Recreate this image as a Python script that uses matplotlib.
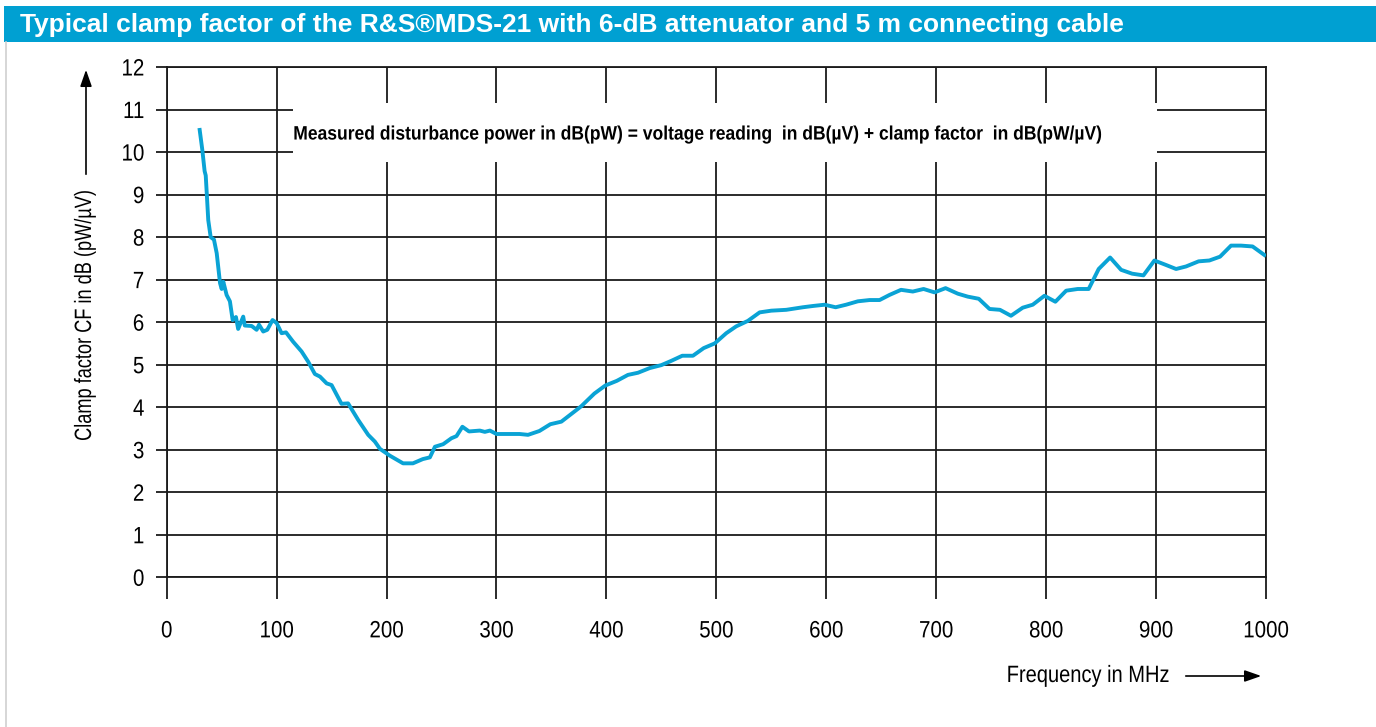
import matplotlib
matplotlib.use("Agg")
import matplotlib.pyplot as plt
import matplotlib.patheffects as pe
from matplotlib.transforms import Affine2D
from matplotlib.patches import Rectangle, FancyArrowPatch

# Data
freq_mhz = [30, 32.4, 34.5, 35.5, 36.5, 37.8, 40, 43, 45.5, 48.5, 50, 51.5, 54.5, 57.5,
            60, 63, 65, 69.6, 71, 77.3, 81.8, 84, 87.8, 91.5, 96.3, 100, 104.5, 108.5,
            115, 122.7, 128.7, 134.8, 139.4, 145.5, 150, 159, 165, 174.2, 183.3, 189.4,
            194, 203, 215, 224, 233, 239.4, 244, 251.5, 259, 263.6, 269, 275, 284.8,
            289.4, 294, 300, 321, 328.7, 339, 349, 359, 377, 389, 399, 409.5, 419.6,
            428.7, 439.4, 450, 459, 469, 478.7, 488.5, 498.5, 509, 518, 528.7, 539.4,
            550, 563.6, 578.7, 587.8, 598.5, 608.5, 618, 628.7, 639.4, 648.5, 657.5,
            668, 678.7, 688.5, 698.5, 708.5, 719.6, 728.7, 738.7, 748.5, 758, 768,
            778.7, 787.8, 798.4, 808.4, 818.2, 828.7, 838.7, 847.8, 858.2, 868.2,
            878.2, 888.5, 898.5, 908.5, 918.2, 927.3, 938.7, 948.5, 958.2, 968.2,
            977.3, 987.8, 998.5]
clamp_factor_db = [10.52, 10.05, 9.55, 9.45, 9.0, 8.4, 8.0, 7.94, 7.62, 6.92, 6.78, 6.95,
                   6.64, 6.49, 6.05, 6.12, 5.84, 6.13, 5.92, 5.91, 5.82, 5.94, 5.78, 5.82,
                   6.05, 5.98, 5.74, 5.76, 5.54, 5.31, 5.07, 4.78, 4.72, 4.56, 4.52, 4.08,
                   4.09, 3.70, 3.35, 3.19, 3.02, 2.86, 2.68, 2.68, 2.78, 2.82, 3.07, 3.13,
                   3.27, 3.32, 3.54, 3.43, 3.45, 3.42, 3.45, 3.37, 3.37, 3.35, 3.44, 3.6,
                   3.66, 4.02, 4.32, 4.51, 4.62, 4.76, 4.81, 4.92, 4.99, 5.09, 5.21, 5.21,
                   5.39, 5.5, 5.74, 5.9, 6.03, 6.23, 6.27, 6.29, 6.35, 6.38, 6.41, 6.35,
                   6.41, 6.49, 6.52, 6.52, 6.64, 6.76, 6.72, 6.78, 6.70, 6.8, 6.67, 6.6,
                   6.55, 6.31, 6.29, 6.15, 6.34, 6.41, 6.62, 6.48, 6.74, 6.78, 6.78, 7.25,
                   7.52, 7.23, 7.14, 7.10, 7.45, 7.35, 7.25, 7.31, 7.43, 7.45, 7.54, 7.8,
                   7.8, 7.78, 7.58]
x_ticks = list(range(0, 1001, 100))
y_ticks = list(range(0, 13))

title = "Typical clamp factor of the R&S\u00aeMDS-21 with 6-dB attenuator and 5 m connecting cable"
note = "Measured disturbance power in dB(pW) = voltage reading  in dB(\u00b5V) + clamp factor  in dB(pW/\u00b5V)"


# no condensed font installed -> squeeze the glyph paths sideways
class Squeeze(pe.AbstractPathEffect):
    def __init__(self, sx=0.82, anchor="left"):
        super().__init__()
        self.sx = sx
        self.anchor = anchor

    def draw_path(self, renderer, gc, tpath, affine, rgbFace=None):
        ext = tpath.get_extents()
        x0 = {"left": ext.x0, "center": (ext.x0 + ext.x1) / 2, "right": ext.x1}[self.anchor]
        t = Affine2D().translate(-x0, 0).scale(self.sx, 1).translate(x0, 0) + affine
        renderer.draw_path(gc, tpath, t, rgbFace)


W, H = 1376, 727
fig = plt.figure(figsize=(W / 100, H / 100), dpi=100)
fig.patch.set_facecolor("white")
font = "Liberation Sans"

# title bar
fig.add_artist(Rectangle((4 / W, 1 - 42 / H), 1 - 4 / W, 36 / H, transform=fig.transFigure,
                         facecolor="#00a0d2", edgecolor="none"))
fig.text(20 / W, 1 - 25 / H, title, color="white", fontsize=19, fontweight="bold",
         family=font, va="center", ha="left")
# thin grey frame line on the left
fig.add_artist(plt.Line2D([6 / W, 6 / W], [0, 1 - 42 / H], transform=fig.transFigure,
                          color="#d0d0d0", lw=1.2))

ax = fig.add_axes([166.7 / W, 1 - 577.3 / H, (1266 - 166.7) / W, (577.3 - 67) / H])
ax.plot(freq_mhz, clamp_factor_db, color="#0aa3d5", lw=2.8, solid_joinstyle="round", zorder=4)

ax.set_xlim(0, 1000)
ax.set_ylim(0, 12)
ax.set_xticks(x_ticks)
ax.set_yticks(y_ticks)
ax.grid(True, color="#1a1a1a", lw=1.3)
for s in ax.spines.values():
    s.set_color("#1a1a1a")
    s.set_linewidth(1.3)
ax.tick_params(axis="x", length=16, width=1.3, color="#1a1a1a", pad=15, labelsize=17)
ax.tick_params(axis="y", length=8, width=1.3, color="#1a1a1a", pad=8, labelsize=17)
for lbl in ax.get_xticklabels():
    lbl.set_family(font)
    lbl.set_path_effects([Squeeze(0.87, "center")])
for lbl in ax.get_yticklabels():
    lbl.set_family(font)
    lbl.set_path_effects([Squeeze(0.87, "right")])

# white note box over the grid
ax.add_patch(Rectangle((115, 9.77), 786, 1.39, facecolor="white", edgecolor="none", zorder=3))
ax.text(115, 10.4, note, fontsize=14, fontweight="bold", family=font,
        va="center", ha="left", zorder=5, path_effects=[Squeeze(0.90, "left")])

# axis labels with arrows
fig.text(85 / W, 1 - 315 / H, "Clamp factor CF in dB (pW/\u00b5V)", rotation=90, fontsize=17,
         family=font, va="center", ha="center", path_effects=[Squeeze(0.77, "center")])
fig.add_artist(FancyArrowPatch((86 / W, 1 - 177 / H), (86 / W, 1 - 67 / H),
                               transform=fig.transFigure, arrowstyle="-|>,head_length=10,head_width=3.5",
                               color="black", lw=1.2, mutation_scale=1))
fig.text(1170 / W, 1 - 676 / H, "Frequency in MHz", fontsize=17, family=font,
         va="center", ha="right", path_effects=[Squeeze(0.85, "right")])
fig.add_artist(FancyArrowPatch((1183 / W, 1 - 676 / H), (1264 / W, 1 - 676 / H),
                               transform=fig.transFigure, arrowstyle="-|>,head_length=10,head_width=3.5",
                               color="black", lw=1.2, mutation_scale=1))

fig.savefig("out.png", dpi=100)
